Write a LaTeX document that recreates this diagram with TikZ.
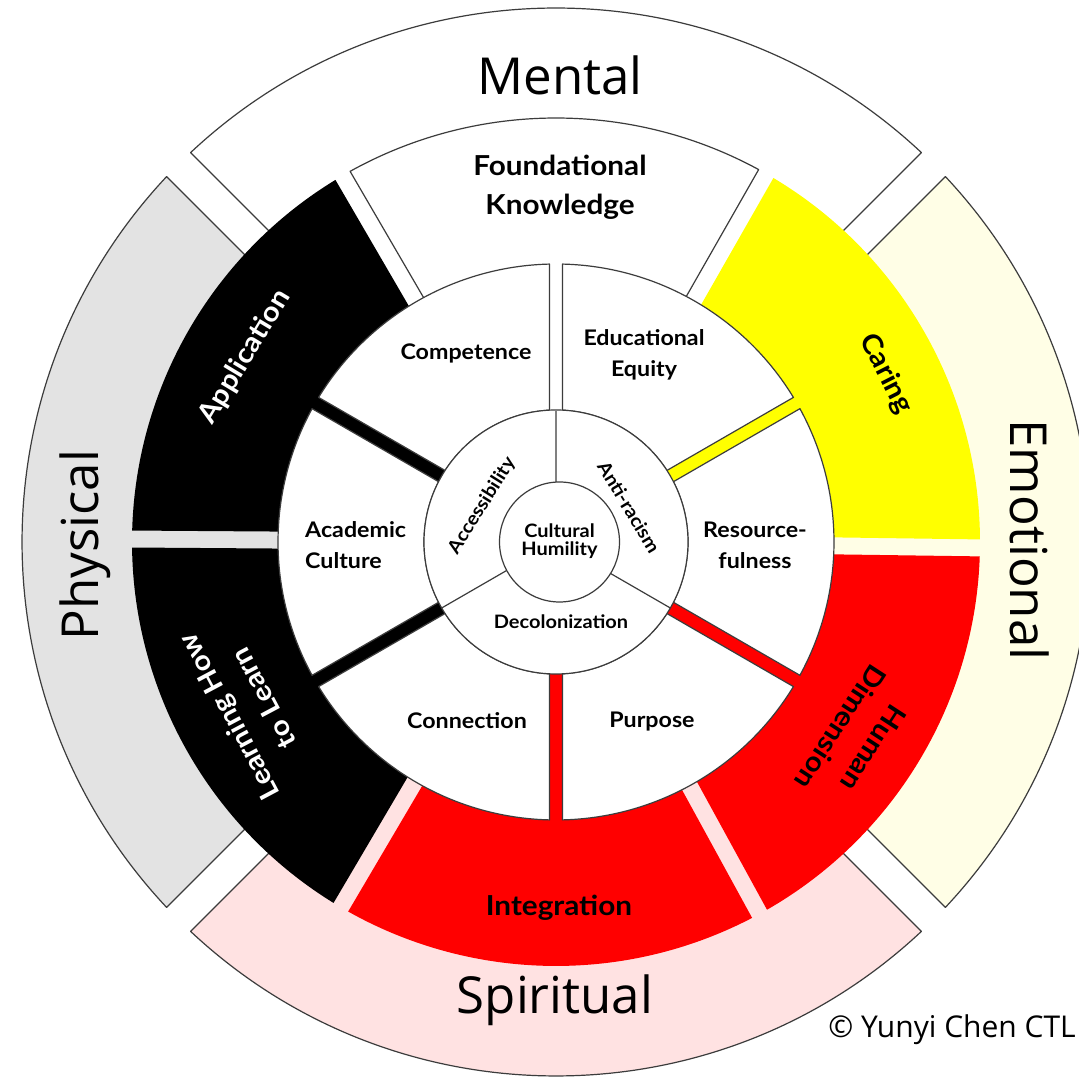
\documentclass[tikz,border=0pt]{standalone}
\usepackage{fontspec}
\setmainfont{Open Sans}
\newfontfamily\labf{Lato}[FakeStretch=1.08]
\definecolor{physgray}{HTML}{E3E3E3}
\definecolor{emocream}{HTML}{FFFEE6}
\definecolor{spirpink}{HTML}{FFE2E2}
\definecolor{olc}{HTML}{3C3C3C}
\definecolor{myred}{HTML}{FF0000}
\definecolor{myyellow}{HTML}{FFFF00}
% annular sector with parallel-sided gaps: style, angle1, angle2, r_in, r_out, half gap
\newcommand\annsec[6]{\path[#1] ({#2+asin(#6/#5)}:#5) arc[start angle={#2+asin(#6/#5)}, end angle={#3-asin(#6/#5)}, radius=#5] -- ({#3-asin(#6/#4)}:#4) arc[start angle={#3-asin(#6/#4)}, end angle={#2+asin(#6/#4)}, radius=#4] -- cycle;}
\begin{document}
\begin{tikzpicture}[x=1pt,y=1pt,
  ol/.style={draw=olc, line width=1.2pt, line join=round},
  biglab/.style={font=\fontsize{51}{60}\selectfont, inner sep=0pt},
  ringlab/.style={font=\labf\bfseries\fontsize{27.5}{39}\selectfont, align=center, inner sep=0pt},
  seglab/.style={font=\labf\bfseries\fontsize{21.5}{31}\selectfont, align=center, inner sep=0pt},
  inlab/.style={font=\labf\bfseries\fontsize{18.5}{18}\selectfont, align=center, inner sep=0pt}]
\useasboundingbox (0,0) rectangle (1079,1078);
\fill[white] (0,0) rectangle (1079,1078);
\begin{scope}[shift={(556,536)}]
% outer ring
\annsec{fill=white,ol}{45}{135}{150}{534}{17}
\annsec{fill=physgray,ol}{135}{225}{150}{534}{17}
\annsec{fill=spirpink,ol}{225}{315}{150}{534}{17}
\annsec{fill=emocream,ol}{-45}{45}{150}{534}{17}
% coloured ring
\annsec{fill=myyellow}{-0.8}{60.3}{100}{424}{8.5}
\annsec{fill=white,ol}{60.3}{120.2}{100}{424}{8.5}
\annsec{fill=black}{120.2}{179.6}{100}{424}{8.5}
\annsec{fill=black}{179.6}{239.5}{100}{424}{8.5}
\annsec{fill=myred}{239.5}{298.7}{100}{424}{8.5}
\annsec{fill=myred}{298.7}{359.2}{100}{424}{8.5}
% white ring
\annsec{fill=white,ol}{30}{90}{132}{278}{6.5}
\annsec{fill=white,ol}{90}{150}{132}{278}{6.5}
\annsec{fill=white,ol}{150}{210}{132}{278}{6.5}
\annsec{fill=white,ol}{210}{270}{132}{278}{6.5}
\annsec{fill=white,ol}{270}{330}{132}{278}{6.5}
\annsec{fill=white,ol}{330}{390}{132}{278}{6.5}
% inner rings
\draw[ol, fill=white] (0,0) circle[radius=132];
\draw[draw=gray, line width=1.2pt] (90:40) -- (90:132);
\draw[ol] (210:40) -- (210:132);
\draw[ol] (330:40) -- (330:132);
\draw[ol, fill=white] (3.5,0) circle[radius=60];
% labels
\node[biglab] (mental) at (4,467) {Mental};
\node[biglab, rotate=90] (physical) at (-471,-3) {Physical};
\node[biglab, rotate=-90] (emotional) at (474,2) {Emotional};
\node[biglab] (spiritual) at (-1,-458) {Spiritual};
\node[ringlab] (fk) at (4,355) {Foundational\\Knowledge};
\node[ringlab, text=white, rotate=59] (appl) at (-311,185) {Application};
\node[ringlab, rotate=-63] (caring) at (330,168) {Caring};
\node[ringlab, rotate=-123] (human) at (301,-196) {Human\\Dimension};
\node[ringlab, text=white, rotate=118] (learn) at (-310,-166) {Learning How\\to Learn};
\node[ringlab] (integ) at (3,-366) {Integration};
\node[seglab] (comp) at (-90,189) {Competence};
\node[seglab] (eduq) at (88,187) {Educational\\Equity};
\node[seglab, align=left, anchor=west] (acad) at (-251,-3) {Academic\\Culture};
\node[seglab] (resf) at (199,-3) {Resource-\\fulness};
\node[seglab] (conn) at (-89,-179) {Connection};
\node[seglab] (purp) at (96,-180) {Purpose};
\node[inlab] (cult) at (3.5,1) {Cultural\\Humility};
\node[inlab, rotate=58] (access) at (-74,36) {Accessibility};
\node[inlab, rotate=-59] (anti) at (73,35) {Anti-racism};
\node[inlab] (decol) at (5,-80) {Decolonization};
\end{scope}
\node[font=\fontsize{30}{34}\selectfont, inner sep=0pt] (copy) at (952,48) {© Yunyi Chen CTL};
\end{tikzpicture}
\end{document}
